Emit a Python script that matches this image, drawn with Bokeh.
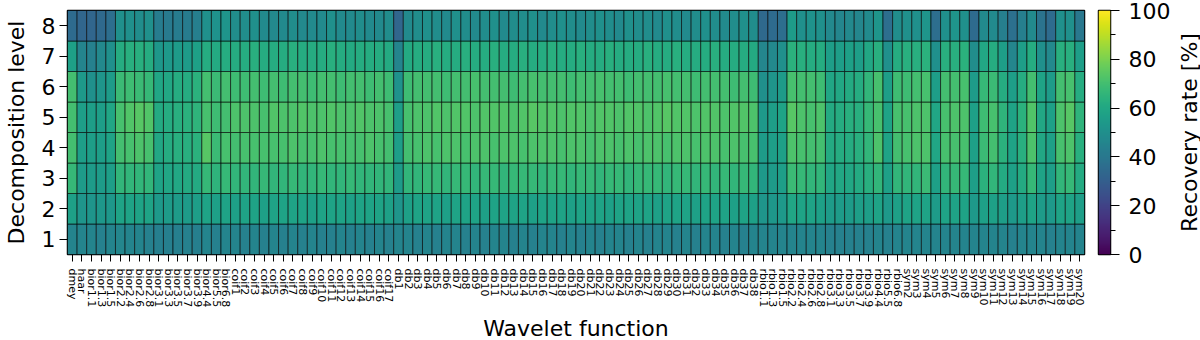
import numpy as np
from bokeh.plotting import figure
from bokeh.models import (FactorRange, Range1d, LinearColorMapper, FixedTicker,
                          LinearAxis, SingleIntervalTicker, ColumnDataSource)
from bokeh.palettes import Viridis256
from bokeh.layouts import row
from bokeh.transform import linear_cmap
from bokeh.embed import file_html
from bokeh.resources import INLINE

wavelets = (["dmey", "haar",
             "bior1.1", "bior1.3", "bior1.5", "bior2.2", "bior2.4", "bior2.6", "bior2.8",
             "bior3.1", "bior3.3", "bior3.5", "bior3.7", "bior3.9", "bior4.4", "bior5.5", "bior6.8"]
            + ["coif%d" % i for i in range(1, 18)]
            + ["db%d" % i for i in range(1, 39)]
            + ["rbio1.1", "rbio1.3", "rbio1.5", "rbio2.2", "rbio2.4", "rbio2.6", "rbio2.8",
               "rbio3.1", "rbio3.3", "rbio3.5", "rbio3.7", "rbio3.9", "rbio4.4", "rbio5.5", "rbio6.8"]
            + ["sym%d" % i for i in range(2, 21)])

levels = [1, 2, 3, 4, 5, 6, 7, 8]

# recovery rate [%] per decomposition level, one value per wavelet (order as above)
rate_level8 = ([35, 33,
                33, 34, 36, 50, 50, 49, 50, 42, 41, 42, 42, 43, 50, 51, 52]
               + [49, 49, 50, 48, 47, 48, 49, 47, 48, 48, 50, 48, 48, 49, 48, 48, 49]
               + [33,
                  48, 49, 50, 49, 48, 50, 49, 48, 49, 50, 48, 49, 49, 50, 48, 49, 50, 49, 48,
                  49, 50, 49, 48, 50, 49, 49, 48, 50, 49, 48, 49, 50, 49, 48, 49, 50, 49]
               + [34, 35, 36, 55, 50, 51, 50, 47, 46, 47, 46, 48, 52, 36, 49]
               + [50, 50, 52, 36, 50, 52, 50, 35, 48, 48, 43, 37, 43, 48, 38, 35, 50, 50, 40])
rate_level7 = ([57, 45,
                44, 47, 50, 62, 63, 63, 62, 53, 54, 55, 55, 57, 62, 61, 62]
               + [62, 62, 63, 62, 62, 62, 63, 62, 62, 62, 63, 62, 61, 62, 62, 62, 61]
               + [45,
                  61, 62, 62, 63, 62, 62, 63, 62, 62, 63, 62, 62, 63, 62, 62, 63, 62, 62, 63,
                  62, 62, 63, 62, 62, 62, 63, 62, 62, 63, 62, 62, 62, 63, 62, 62, 62, 61]
               + [46, 47, 50, 64, 63, 62, 62, 56, 56, 57, 56, 60, 63, 50, 62]
               + [63, 63, 64, 50, 63, 63, 64, 49, 60, 62, 56, 46, 56, 62, 50, 47, 63, 63, 56])
rate_level6 = ([70, 54,
                50, 52, 55, 68, 69, 68, 67, 59, 60, 62, 62, 64, 70, 68, 70]
               + [69, 69, 70, 69, 70, 69, 70, 70, 69, 70, 70, 69, 70, 70, 69, 70, 69]
               + [51,
                  69, 70, 70, 70, 69, 70, 70, 71, 70, 70, 70, 69, 70, 71, 70, 70, 70, 69, 70,
                  70, 71, 70, 70, 69, 70, 70, 70, 71, 70, 70, 69, 70, 70, 70, 69, 70, 69]
               + [50, 52, 55, 71, 70, 70, 69, 59, 60, 61, 62, 66, 71, 56, 69]
               + [69, 70, 71, 56, 70, 70, 71, 55, 67, 68, 62, 56, 62, 70, 58, 55, 70, 71, 62])
rate_level5 = ([70, 56,
                56, 56, 59, 71, 73, 74, 73, 61, 62, 63, 64, 65, 71, 69, 70]
               + [72, 72, 72, 71, 73, 72, 72, 73, 72, 72, 73, 72, 72, 73, 72, 72, 71]
               + [56,
                  71, 72, 72, 73, 72, 73, 73, 72, 73, 73, 73, 72, 73, 74, 73, 73, 72, 73, 73,
                  72, 73, 73, 72, 73, 73, 72, 73, 74, 73, 73, 72, 73, 73, 72, 73, 73, 72]
               + [54, 56, 58, 74, 72, 71, 72, 61, 62, 63, 63, 67, 71, 58, 71]
               + [71, 72, 72, 59, 71, 72, 72, 57, 69, 71, 65, 58, 64, 73, 60, 57, 72, 74, 65])
rate_level4 = ([70, 56,
                56, 56, 58, 70, 71, 72, 71, 60, 62, 63, 63, 64, 74, 68, 71]
               + [70, 71, 71, 71, 71, 71, 72, 71, 71, 72, 71, 71, 71, 71, 72, 71, 70]
               + [56,
                  70, 71, 72, 71, 72, 72, 71, 72, 72, 71, 72, 72, 71, 72, 72, 72, 71, 72, 72,
                  71, 72, 72, 71, 72, 71, 72, 72, 71, 72, 72, 71, 72, 72, 71, 72, 71, 71]
               + [55, 56, 57, 72, 71, 70, 70, 61, 62, 62, 63, 66, 72, 58, 70]
               + [71, 72, 72, 59, 71, 71, 71, 57, 68, 70, 64, 58, 63, 72, 60, 57, 71, 72, 63])
rate_level3 = ([67, 55,
                55, 55, 56, 66, 66, 66, 66, 58, 59, 60, 61, 61, 67, 65, 67]
               + [66, 66, 66, 67, 66, 66, 67, 66, 66, 67, 66, 66, 67, 66, 66, 66, 66]
               + [55,
                  66, 66, 67, 67, 66, 67, 67, 66, 67, 67, 66, 67, 67, 67, 66, 67, 67, 66, 67,
                  67, 66, 67, 67, 66, 67, 67, 67, 66, 67, 67, 66, 67, 66, 67, 66, 67, 66]
               + [54, 55, 56, 68, 67, 66, 66, 59, 60, 60, 61, 63, 66, 57, 66]
               + [66, 66, 68, 57, 66, 67, 67, 56, 64, 66, 61, 57, 61, 67, 58, 56, 66, 67, 61])
rate_level2 = ([57, 52,
                52, 53, 53, 58, 58, 58, 58, 54, 55, 55, 55, 56, 58, 57, 58]
               + [57, 58, 58, 57, 58, 58, 58, 58, 57, 58, 58, 58, 57, 58, 58, 58, 57]
               + [52,
                  57, 58, 58, 58, 57, 58, 58, 58, 57, 58, 58, 58, 58, 57, 58, 58, 58, 57, 58,
                  58, 58, 57, 58, 58, 58, 58, 57, 58, 58, 58, 57, 58, 58, 58, 57, 58, 57]
               + [52, 53, 54, 59, 58, 58, 57, 55, 55, 55, 56, 56, 58, 54, 57]
               + [58, 58, 58, 55, 58, 58, 58, 54, 57, 57, 56, 54, 56, 58, 55, 54, 58, 58, 56])
rate_level1 = ([45, 45,
                45, 44, 45, 46, 45, 45, 44, 43, 43, 43, 44, 43, 45, 44, 45]
               + [45, 44, 45, 44, 45, 44, 45, 44, 45, 44, 44, 45, 44, 45, 44, 45, 44]
               + [45,
                  45, 44, 45, 44, 45, 45, 44, 45, 44, 45, 45, 44, 45, 44, 45, 45, 44, 45, 44,
                  45, 44, 45, 45, 44, 45, 44, 45, 45, 44, 45, 44, 45, 45, 44, 45, 44, 45]
               + [45, 45, 45, 45, 45, 45, 45, 44, 44, 44, 44, 44, 45, 44, 45]
               + [45, 45, 45, 45, 45, 45, 45, 45, 45, 45, 45, 44, 45, 45, 45, 44, 45, 45, 45])

rates_by_level = [rate_level1, rate_level2, rate_level3, rate_level4,
                  rate_level5, rate_level6, rate_level7, rate_level8]

FONT = "DejaVu Sans"
TOP = 10
BOTTOM = 82

xs, ys, vals = [], [], []
for lev, rates in zip(levels, rates_by_level):
    for w, r in zip(wavelets, rates):
        xs.append(w)
        ys.append(lev)
        vals.append(r)
src = ColumnDataSource(dict(x=xs, y=ys, rate=vals))

p = figure(x_range=FactorRange(*wavelets), y_range=Range1d(0.5, 8.5),
           frame_width=1017, frame_height=244,
           min_border_top=TOP, min_border_right=5, min_border_left=0, min_border_bottom=BOTTOM,
           output_backend="svg", toolbar_location=None)
p.rect(x="x", y="y", width=1, height=1, source=src,
       fill_color=linear_cmap("rate", Viridis256, 0, 100),
       line_color="black", line_width=0.8, line_alpha=0.75)
p.grid.visible = False
p.outline_line_color = "black"
p.outline_line_width = 1.5
p.outline_line_alpha = 1

xa = p.xaxis[0]
xa.major_label_orientation = "vertical"
xa.major_label_text_font = FONT
xa.major_label_text_font_size = "11px"
xa.major_label_text_color = "black"
xa.major_tick_out = 7
xa.major_tick_in = 0
xa.major_label_standoff = 7
xa.axis_line_color = None
xa.axis_label = "Wavelet function"
xa.axis_label_text_font = FONT
xa.axis_label_text_font_size = "22px"
xa.axis_label_text_font_style = "normal"
xa.axis_label_text_color = "black"
xa.axis_label_standoff = 6

ya = p.yaxis[0]
ya.ticker = FixedTicker(ticks=levels)
ya.minor_tick_line_color = None
ya.major_tick_out = 8
ya.major_tick_in = 0
ya.major_label_standoff = 4
ya.major_label_text_font = FONT
ya.major_label_text_font_size = "22px"
ya.major_label_text_color = "black"
ya.axis_line_color = None
ya.axis_label = "Decomposition level"
ya.axis_label_text_font = FONT
ya.axis_label_text_font_size = "22px"
ya.axis_label_text_font_style = "normal"
ya.axis_label_text_color = "black"
ya.axis_label_standoff = 10

# colorbar as its own narrow figure
mapper = LinearColorMapper(palette=Viridis256, low=0, high=100)
grad = np.linspace(0, 100, 256).reshape(256, 1)
cb = figure(x_range=Range1d(0, 1), y_range=Range1d(0, 100),
            frame_width=12, frame_height=244,
            min_border_top=TOP, min_border_left=9, min_border_right=8, min_border_bottom=BOTTOM,
            x_axis_location=None, y_axis_location=None,
            output_backend="svg", toolbar_location=None)
cb.image(image=[grad], x=0, y=0, dw=1, dh=100, color_mapper=mapper)
cb.grid.visible = False
cb.outline_line_color = "black"
cb.outline_line_width = 1.5
cb.outline_line_alpha = 1
ax = LinearAxis(ticker=SingleIntervalTicker(interval=20, num_minor_ticks=2))
ax.axis_line_color = None
ax.major_tick_out = 9
ax.major_tick_in = 0
ax.minor_tick_out = 5
ax.minor_tick_in = 0
ax.major_label_standoff = 9
ax.major_label_text_font = FONT
ax.major_label_text_font_size = "22px"
ax.major_label_text_color = "black"
cb.add_layout(ax, "right")

# colorbar title, reading bottom to top, carried by a label-only axis
lab = figure(x_range=Range1d(0, 1), y_range=Range1d(0, 100),
             frame_width=1, frame_height=244,
             min_border_top=TOP, min_border_left=0, min_border_right=0, min_border_bottom=BOTTOM,
             x_axis_location=None, y_axis_location=None,
             output_backend="svg", toolbar_location=None)
lab.grid.visible = False
lab.outline_line_color = None
lab_ax = LinearAxis(ticker=FixedTicker(ticks=[]))
lab_ax.axis_line_color = None
lab_ax.major_tick_line_color = None
lab_ax.minor_tick_line_color = None
lab_ax.major_tick_out = 0
lab_ax.minor_tick_out = 0
lab_ax.major_label_standoff = 0
lab_ax.axis_label = "Recovery rate [%]"
lab_ax.axis_label_text_font = FONT
lab_ax.axis_label_text_font_size = "22px"
lab_ax.axis_label_text_font_style = "normal"
lab_ax.axis_label_text_color = "black"
lab_ax.axis_label_standoff = 0
lab.add_layout(lab_ax, "left")

layout = row(p, cb, lab)
open("out.html", "w").write(file_html(layout, INLINE))
